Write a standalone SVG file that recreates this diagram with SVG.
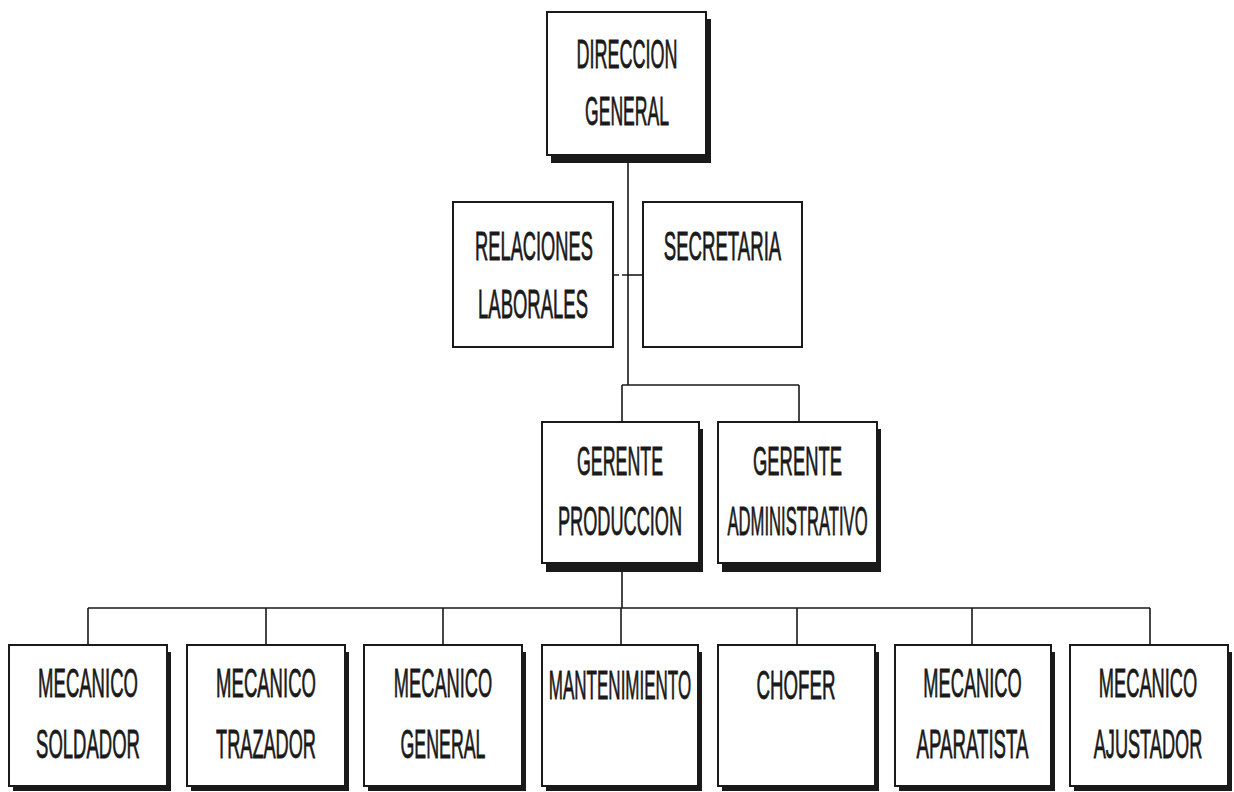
<svg xmlns="http://www.w3.org/2000/svg" width="1234" height="792" viewBox="0 0 1234 792">
<style>
.box{fill:#fff;stroke:#1a1a1a;stroke-width:2}
.sh{fill:#1a1a1a}
.ln{fill:none;stroke:#1a1a1a;stroke-width:1.6}
.t{font-family:"Liberation Sans",Arial,sans-serif;font-size:41px;fill:#1a1a1a;stroke:#1a1a1a;stroke-width:0.8;text-anchor:middle}
</style>
<rect width="1234" height="792" fill="#fff"/>
<g id="connectors">
<path class="ln" d="M628 162V385M622 385H799M622 385V422M799 385V422"/>
<path class="ln" d="M613 275H628" stroke-dasharray="6 3"/>
<path class="ln" d="M628 275H643"/>
<path class="ln" d="M622 572V608M88 608H1150M88 608V645M266 608V645M443 608V645M621 608V645M797 608V645M972 608V645M1150 608V645"/>
</g>
<g id="direccion">
<rect class="sh" x="551" y="19" width="160" height="144"/>
<rect class="box" x="547" y="12" width="159" height="143"/>
<text class="t" transform="translate(627 68) scale(0.439 1)">DIRECCION</text>
<text class="t" transform="translate(627 125) scale(0.429 1)">GENERAL</text>
</g>
<g id="relaciones">
<rect class="box" x="453" y="202" width="160" height="145"/>
<text class="t" transform="translate(534 260) scale(0.446 1)">RELACIONES</text>
<text class="t" transform="translate(533 318) scale(0.451 1)">LABORALES</text>
</g>
<g id="secretaria">
<rect class="box" x="643" y="202" width="159" height="145"/>
<text class="t" transform="translate(722.5 260) scale(0.454 1)">SECRETARIA</text>
</g>
<g id="gerente-produccion">
<rect class="sh" x="546" y="429" width="157" height="143"/>
<rect class="box" x="542" y="422" width="157" height="141"/>
<text class="t" transform="translate(620 475) scale(0.434 1)">GERENTE</text>
<text class="t" transform="translate(620 535) scale(0.443 1)">PRODUCCION</text>
</g>
<g id="gerente-administrativo">
<rect class="sh" x="722" y="429" width="159" height="143"/>
<rect class="box" x="718" y="422" width="159" height="141"/>
<text class="t" transform="translate(797.5 475) scale(0.449 1)">GERENTE</text>
<text class="t" transform="translate(797.5 535) scale(0.406 1)">ADMINISTRATIVO</text>
</g>
<g id="mecanico-soldador">
<rect class="sh" x="13" y="652" width="158" height="139"/>
<rect class="box" x="9" y="645" width="158" height="141"/>
<text class="t" transform="translate(88 697) scale(0.452 1)">MECANICO</text>
<text class="t" transform="translate(88 758) scale(0.452 1)">SOLDADOR</text>
</g>
<g id="mecanico-trazador">
<rect class="sh" x="191" y="652" width="158" height="139"/>
<rect class="box" x="187" y="645" width="158" height="141"/>
<text class="t" transform="translate(266 697) scale(0.452 1)">MECANICO</text>
<text class="t" transform="translate(266 758) scale(0.443 1)">TRAZADOR</text>
</g>
<g id="mecanico-general">
<rect class="sh" x="368" y="652" width="158" height="139"/>
<rect class="box" x="364" y="645" width="158" height="141"/>
<text class="t" transform="translate(443 697) scale(0.445 1)">MECANICO</text>
<text class="t" transform="translate(443 758) scale(0.434 1)">GENERAL</text>
</g>
<g id="mantenimiento">
<rect class="sh" x="546" y="652" width="156" height="139"/>
<rect class="box" x="542" y="645" width="156" height="141"/>
<text class="t" transform="translate(620 699) scale(0.415 1)">MANTENIMIENTO</text>
</g>
<g id="chofer">
<rect class="sh" x="722" y="652" width="157" height="139"/>
<rect class="box" x="718" y="645" width="157" height="141"/>
<text class="t" transform="translate(796 699) scale(0.456 1)">CHOFER</text>
</g>
<g id="mecanico-aparatista">
<rect class="sh" x="899" y="652" width="156" height="139"/>
<rect class="box" x="895" y="645" width="156" height="141"/>
<text class="t" transform="translate(972.5 697) scale(0.445 1)">MECANICO</text>
<text class="t" transform="translate(972.5 758) scale(0.455 1)">APARATISTA</text>
</g>
<g id="mecanico-ajustador">
<rect class="sh" x="1074" y="652" width="158" height="139"/>
<rect class="box" x="1070" y="645" width="158" height="141"/>
<text class="t" transform="translate(1148 697) scale(0.445 1)">MECANICO</text>
<text class="t" transform="translate(1148 758) scale(0.443 1)">AJUSTADOR</text>
</g>
</svg>
